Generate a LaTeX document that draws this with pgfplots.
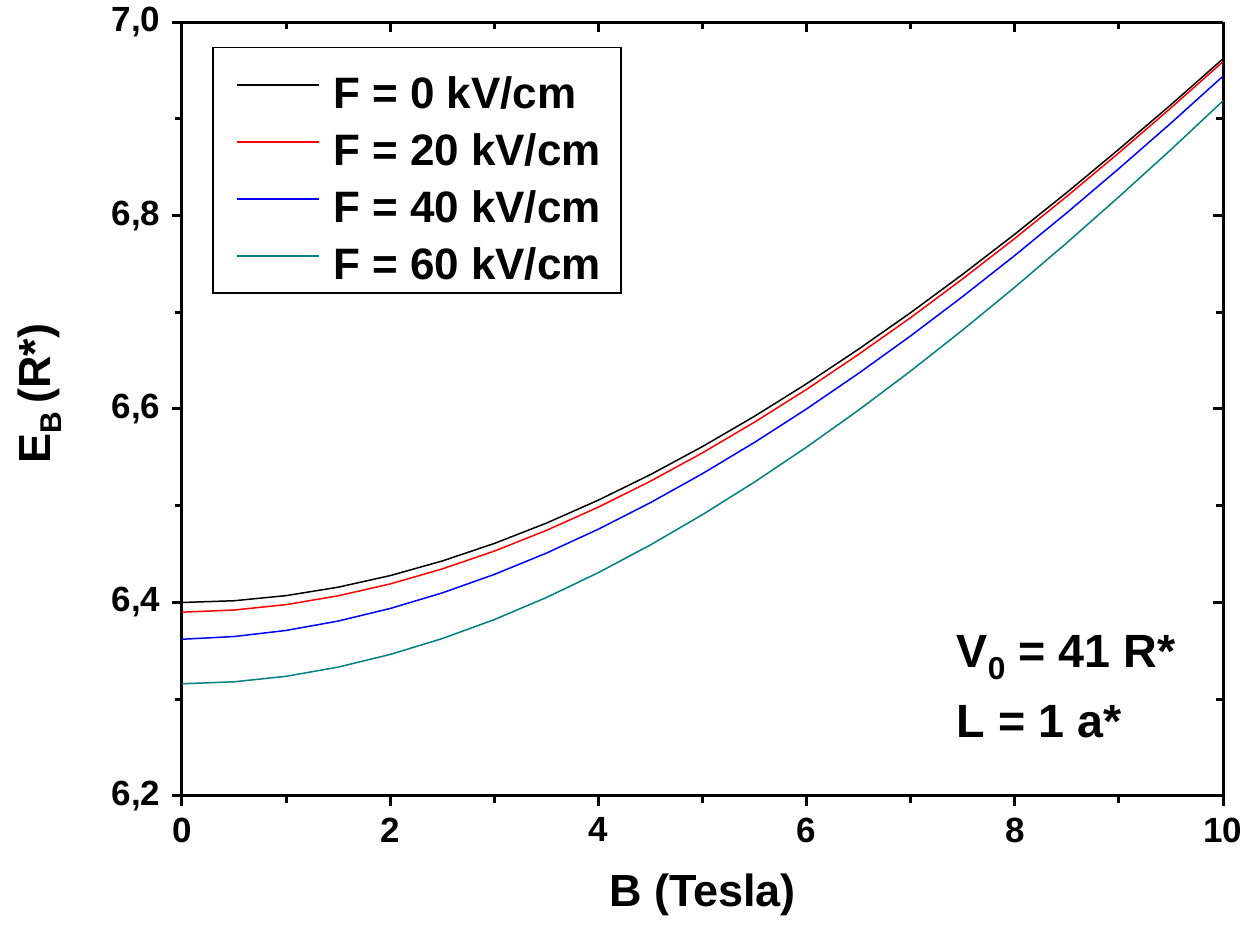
\documentclass[border=0pt]{standalone}
\usepackage{pgfplots}
\pgfplotsset{compat=1.18}
\usepackage{fontspec}
\setmainfont{Liberation Sans}
\definecolor{cteal}{RGB}{0,128,128}

\begin{document}
\begin{tikzpicture}
\pgfplotsset{
  common/.style={
    scale only axis, width=312.3pt, height=232.2pt,
    xmin=0, xmax=10, ymin=6.2, ymax=7.0,
    xtick={0,2,4,6,8,10}, minor xtick={1,3,5,7,9},
    ytick={6.2,6.4,6.6,6.8,7.0}, minor ytick={6.3,6.5,6.7,6.9},
    major tick length=3pt, minor tick length=2pt,
    every tick/.style={line width=0.9pt, black},
    axis line style={line width=0.9pt},
  }
}
\begin{axis}[common,
  axis x line*=top, axis y line*=right, tick align=inside,
  xticklabels={}, yticklabels={},
]
\end{axis}
\begin{axis}[common,
  axis x line*=bottom, axis y line*=left, tick align=outside,
  /pgf/number format/assume math mode=true,
  tick label style={font=\bfseries\fontsize{10.5}{12}\selectfont},
  yticklabel style={/pgf/number format/.cd, fixed, fixed zerofill, precision=1, use comma},
  xlabel={B (Tesla)},
  ylabel={E\raisebox{-0.45ex}{\fontsize{9}{9}\selectfont B}\,(R*)},
  label style={font=\bfseries\fontsize{13.5}{16}\selectfont},
  x label style={at={(axis description cs:0.5,-0.128)}, anchor=center},
  y label style={at={(axis description cs:-0.1365,0.52)}, anchor=center},
  legend style={at={(0.029,0.968)}, anchor=north west, draw=black, line width=0.5pt,
    font=\bfseries\fontsize{13.2}{15}\selectfont, cells={anchor=west},
    nodes={text depth=0pt, text height=14pt, inner ysep=0pt},
    inner xsep=4pt, inner ysep=4.2pt, row sep=3.1pt},
  legend image code/.code={\path[draw=none,fill=none] (0pt,0pt) -- (30pt,0pt);
    \draw[#1, line width=0.4pt] (3.3pt,0pt) -- (27.9pt,0pt);},
]
\addplot[black, line width=0.45pt] coordinates {
(0,6.4000) (0.5,6.4018) (1,6.4071) (1.5,6.4158) (2,6.4278) (2.5,6.4429) (3,6.4610)
(3.5,6.4820) (4,6.5058) (4.5,6.5322) (5,6.5612) (5.5,6.5925) (6,6.6261) (6.5,6.6619)
(7,6.6996) (7.5,6.7393) (8,6.7807) (8.5,6.8238) (9,6.8685) (9.5,6.9145) (10,6.9620)};
\addlegendentry{F = 0 kV/cm}
\addplot[red, line width=0.45pt] coordinates {
(0,6.3900) (0.5,6.3922) (1,6.3978) (1.5,6.4069) (2,6.4192) (2.5,6.4347) (3,6.4531)
(3.5,6.4745) (4,6.4986) (4.5,6.5254) (5,6.5547) (5.5,6.5864) (6,6.6203) (6.5,6.6565)
(7,6.6945) (7.5,6.7346) (8,6.7763) (8.5,6.8198) (9,6.8648) (9.5,6.9112) (10,6.9590)};
\addlegendentry{F = 20 kV/cm}
\addplot[blue, line width=0.45pt] coordinates {
(0,6.3620) (0.5,6.3648) (1,6.3711) (1.5,6.3808) (2,6.3938) (2.5,6.4099) (3,6.4290)
(3.5,6.4510) (4,6.4758) (4.5,6.5032) (5,6.5332) (5.5,6.5655) (6,6.6001) (6.5,6.6369)
(7,6.6756) (7.5,6.7163) (8,6.7587) (8.5,6.8028) (9,6.8485) (9.5,6.8955) (10,6.9440)};
\addlegendentry{F = 40 kV/cm}
\addplot[cteal, line width=0.45pt] coordinates {
(0,6.3160) (0.5,6.3180) (1,6.3237) (1.5,6.3332) (2,6.3463) (2.5,6.3627) (3,6.3823)
(3.5,6.4051) (4,6.4309) (4.5,6.4595) (5,6.4908) (5.5,6.5245) (6,6.5606) (6.5,6.5989)
(7,6.6393) (7.5,6.6817) (8,6.7259) (8.5,6.7718) (9,6.8193) (9.5,6.8681) (10,6.9185)};
\addlegendentry{F = 60 kV/cm}
\node[anchor=west, font=\bfseries\fontsize{14}{16}\selectfont] at (axis cs:7.33,6.343)
  {V\raisebox{-0.45ex}{\fontsize{9.5}{9.5}\selectfont 0} = 41 R*};
\node[anchor=west, font=\bfseries\fontsize{14}{16}\selectfont] at (axis cs:7.33,6.277)
  {L = 1 a*};
\coordinate (sw) at (rel axis cs:0,0);
\coordinate (ne) at (rel axis cs:1,1);
\end{axis}
\pgfresetboundingbox
\path[use as bounding box] ([xshift=-54.6pt, yshift=-40.8pt]sw) rectangle ([xshift=10.8pt, yshift=6.6pt]ne);
\end{tikzpicture}
\end{document}
